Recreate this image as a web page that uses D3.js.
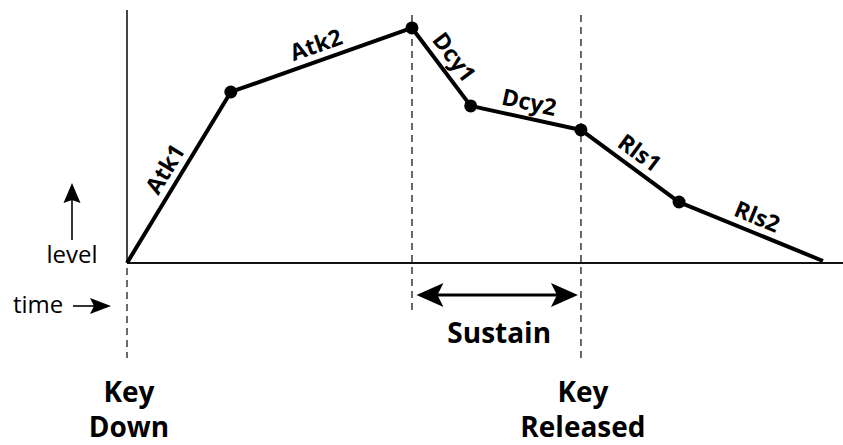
<!DOCTYPE html>
<html>
<head>
<meta charset="utf-8">
<script src="https://cdn.jsdelivr.net/npm/d3@7"></script>
<style>
  html, body { margin: 0; padding: 0; background: #fff; }
  svg { display: block; }
  text { font-family: "Open Sans", "Noto Sans", sans-serif; fill: #000; }
</style>
</head>
<body>
<svg id="chart" width="843" height="445"></svg>
<script>
// ---- data ----
const stageNames = ["Atk1", "Atk2", "Dcy1", "Dcy2", "Rls1", "Rls2"];
const breakTimes = [0, 1.45, 3.98, 4.80, 6.34, 7.71, 9.72];      // segment boundaries
const breakLevels = [0, 67.6, 92.9, 62.1, 52.6, 24.1, 0.8];      // envelope level at boundaries
const dotIndices = [1, 2, 3, 4, 5];                               // breakpoints drawn with a dot
const keyDownTime = 0;
const sustainStart = 3.98;
const keyReleaseTime = 6.34;
const keyDownLabel = ["Key", "Down"];
const keyReleaseLabel = ["Key", "Released"];
const sustainLabel = "Sustain";
const levelLabel = "level";
const timeLabel = "time";

// ---- scales ----
const svg = d3.select("#chart");
const x = d3.scaleLinear().domain([0, 10]).range([127, 843]);
const y = d3.scaleLinear().domain([0, 100]).range([263, 10]);

const pts = breakTimes.map((t, i) => ({ t, v: breakLevels[i] }));

// axes
svg.append("line")
  .attr("x1", x(0)).attr("x2", x(0)).attr("y1", y(100)).attr("y2", y(0))
  .attr("stroke", "#444").attr("stroke-width", 2);
svg.append("line")
  .attr("x1", x(0)).attr("x2", x(10)).attr("y1", y(0)).attr("y2", y(0))
  .attr("stroke", "#111").attr("stroke-width", 2);

// dashed markers
const dashes = [
  { t: keyDownTime, y1: 268, y2: 358 },
  { t: sustainStart, y1: 15, y2: 310 },
  { t: keyReleaseTime, y1: 15, y2: 358 }
];
svg.selectAll("line.dash").data(dashes).join("line")
  .attr("class", "dash")
  .attr("x1", d => x(d.t)).attr("x2", d => x(d.t))
  .attr("y1", d => d.y1).attr("y2", d => d.y2)
  .attr("stroke", "#444").attr("stroke-width", 1.6)
  .attr("stroke-dasharray", "7,5");

// envelope
const line = d3.line().x(d => x(d.t)).y(d => y(d.v));
svg.append("path").datum(pts)
  .attr("d", line)
  .attr("fill", "none").attr("stroke", "#000")
  .attr("stroke-width", 4).attr("stroke-linejoin", "round");

svg.selectAll("circle.bp").data(dotIndices.map(i => pts[i])).join("circle")
  .attr("class", "bp")
  .attr("cx", d => x(d.t)).attr("cy", d => y(d.v)).attr("r", 6.5)
  .attr("fill", "#000");

// segment labels
stageNames.forEach((name, i) => {
  const a = pts[i], b = pts[i + 1];
  const x1 = x(a.t), y1 = y(a.v), x2 = x(b.t), y2 = y(b.v);
  const ang = Math.atan2(y2 - y1, x2 - x1) * 180 / Math.PI;
  const mx = (x1 + x2) / 2, my = (y1 + y2) / 2;
  svg.append("text")
    .attr("transform", `translate(${mx},${my}) rotate(${ang})`)
    .attr("y", -8)
    .attr("text-anchor", "middle")
    .attr("font-size", 23).attr("font-weight", 700)
    .text(name);
});

// level arrow
svg.append("line").attr("x1", 72).attr("x2", 72).attr("y1", 240).attr("y2", 200)
  .attr("stroke", "#000").attr("stroke-width", 1.6);
svg.append("path").attr("d", "M72,183 L80.5,203 L72,200 L63.5,203 Z").attr("fill", "#000");
svg.append("text").attr("x", 72).attr("y", 263).attr("text-anchor", "middle")
  .attr("font-size", 24).text(levelLabel);

// time arrow
svg.append("text").attr("x", 13).attr("y", 313).attr("font-size", 24).text(timeLabel);
svg.append("line").attr("x1", 73).attr("x2", 95).attr("y1", 306).attr("y2", 306)
  .attr("stroke", "#000").attr("stroke-width", 1.6);
svg.append("path").attr("d", "M111,306 L90,298 L94,306 L90,314 Z").attr("fill", "#000");

// sustain arrow
const sy = 295;
const sx1 = x(sustainStart) + 4.5, sx2 = x(keyReleaseTime) - 3;
svg.append("line").attr("x1", sx1 + 20).attr("x2", sx2 - 20).attr("y1", sy).attr("y2", sy)
  .attr("stroke", "#000").attr("stroke-width", 3);
svg.append("path")
  .attr("d", `M${sx1},${sy} L${sx1 + 27},${sy - 12} L${sx1 + 21},${sy} L${sx1 + 27},${sy + 12} Z`)
  .attr("fill", "#000");
svg.append("path")
  .attr("d", `M${sx2},${sy} L${sx2 - 27},${sy - 12} L${sx2 - 21},${sy} L${sx2 - 27},${sy + 12} Z`)
  .attr("fill", "#000");
svg.append("text")
  .attr("x", (sx1 + sx2) / 2 + 2).attr("y", 343)
  .attr("text-anchor", "middle").attr("font-size", 28).attr("font-weight", 700)
  .text(sustainLabel);

// key labels
function keyLabel(lines, t) {
  const g = svg.append("text").attr("text-anchor", "middle")
    .attr("font-size", 28).attr("font-weight", 700);
  lines.forEach((s, i) => {
    g.append("tspan").attr("x", x(t) + 2).attr("y", 402 + i * 35).text(s);
  });
}
keyLabel(keyDownLabel, keyDownTime);
keyLabel(keyReleaseLabel, keyReleaseTime);
</script>
</body>
</html>
